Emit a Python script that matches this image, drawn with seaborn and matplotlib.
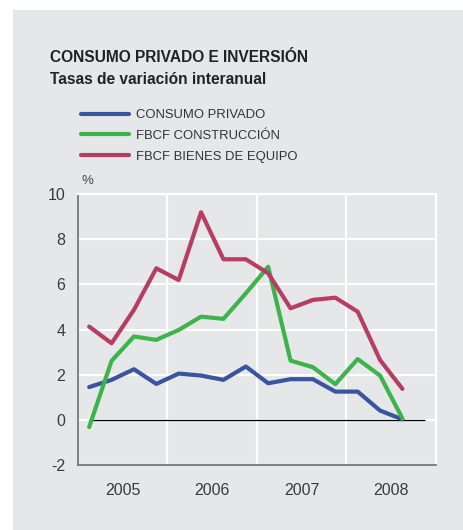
import pandas as pd
import seaborn as sns
import matplotlib.pyplot as plt
from matplotlib.patches import Rectangle

# quarterly data 2005Q1 - 2008Q3
quarters = ['2005Q1', '2005Q2', '2005Q3', '2005Q4',
            '2006Q1', '2006Q2', '2006Q3', '2006Q4',
            '2007Q1', '2007Q2', '2007Q3', '2007Q4',
            '2008Q1', '2008Q2', '2008Q3']
consumo = [1.45, 1.77, 2.24, 1.59, 2.05, 1.96, 1.77, 2.36,
           1.62, 1.80, 1.80, 1.25, 1.25, 0.41, 0.02]
construccion = [-0.32, 2.61, 3.69, 3.54, 3.98, 4.57, 4.47, 5.60,
                6.78, 2.62, 2.33, 1.58, 2.69, 1.96, 0.06]
equipo = [4.13, 3.39, 4.87, 6.71, 6.19, 9.19, 7.11, 7.11,
          6.49, 4.94, 5.31, 5.41, 4.79, 2.65, 1.37]
series_names = ['CONSUMO PRIVADO', 'FBCF CONSTRUCCIÓN', 'FBCF BIENES DE EQUIPO']
colors = ['#3a559f', '#3cb44b', '#b73d63']
years = ['2005', '2006', '2007', '2008']

df = pd.DataFrame({'q': range(len(quarters)),
                   series_names[0]: consumo,
                   series_names[1]: construccion,
                   series_names[2]: equipo})
df = df.melt(id_vars='q', var_name='serie', value_name='tasa')

bg = '#e6e7e8'
sns.set_style('white')
plt.rcParams['font.family'] = ['Liberation Sans', 'DejaVu Sans']

fig = plt.figure(figsize=(4.64, 5.30), dpi=100)
fig.patches.append(Rectangle((13 / 464, 0), 1, 520 / 530, transform=fig.transFigure,
                             facecolor=bg, edgecolor='none', zorder=-10))
ax = fig.add_axes([78 / 464, 65 / 530, 358 / 464, 271 / 530])
ax.set_facecolor(bg)

sns.lineplot(data=df, x='q', y='tasa', hue='serie', palette=colors,
             hue_order=series_names, linewidth=3.0, ax=ax, legend=False, zorder=3)
ax.hlines(0, 0, 15, color='black', linewidth=0.9, zorder=2)

ax.set_xlim(-0.5, 15.5)
ax.set_ylim(-2, 10)
ax.set_yticks(range(-2, 11, 2))
ax.set_yticklabels([str(v) for v in range(-2, 11, 2)], fontsize=11.5, color='#3a3a3a')
ax.set_xticks([3.5, 7.5, 11.5], minor=False)
ax.set_xticklabels([])
ax.set_xticks([1.5, 5.5, 9.5, 13.5], minor=True)
ax.set_xticklabels(years, minor=True, fontsize=11.5, color='#3a3a3a')
ax.tick_params(axis='both', which='both', length=0)
ax.tick_params(axis='y', pad=9)
ax.tick_params(axis='x', which='minor', pad=13)
ax.grid(True, which='major', color='white', linewidth=1.5)
ax.set_axisbelow(True)
ax.set_xlabel('')
ax.set_ylabel('')
for s in ['top', 'right']:
    ax.spines[s].set_color('white')
    ax.spines[s].set_linewidth(1.5)
for s in ['left', 'bottom']:
    ax.spines[s].set_color('#777777')
    ax.spines[s].set_linewidth(1.3)

ax.text(0.01, 1.025, '%', transform=ax.transAxes, fontsize=9.5, color='#444444',
        ha='left', va='bottom')

fig.text(50 / 464, 1 - 58 / 530, 'CONSUMO PRIVADO E INVERSIÓN', fontsize=11.2,
         fontweight='bold', color='#222222', va='center', ha='left')
fig.text(50 / 464, 1 - 79 / 530, 'Tasas de variación interanual', fontsize=11.2,
         fontweight='bold', color='#222222', va='center', ha='left')

handles = [plt.Line2D([], [], color=c, linewidth=3.0) for c in colors]
fig.legend(handles, series_names, loc='upper left',
           bbox_to_anchor=(74 / 464, 1 - 102.5 / 530), frameon=False,
           fontsize=9.4, handlelength=3.75, handletextpad=0.5,
           labelspacing=0.66, labelcolor='#333333', borderaxespad=0, borderpad=0.5)

fig.savefig('out.png', dpi=100, facecolor='white')
